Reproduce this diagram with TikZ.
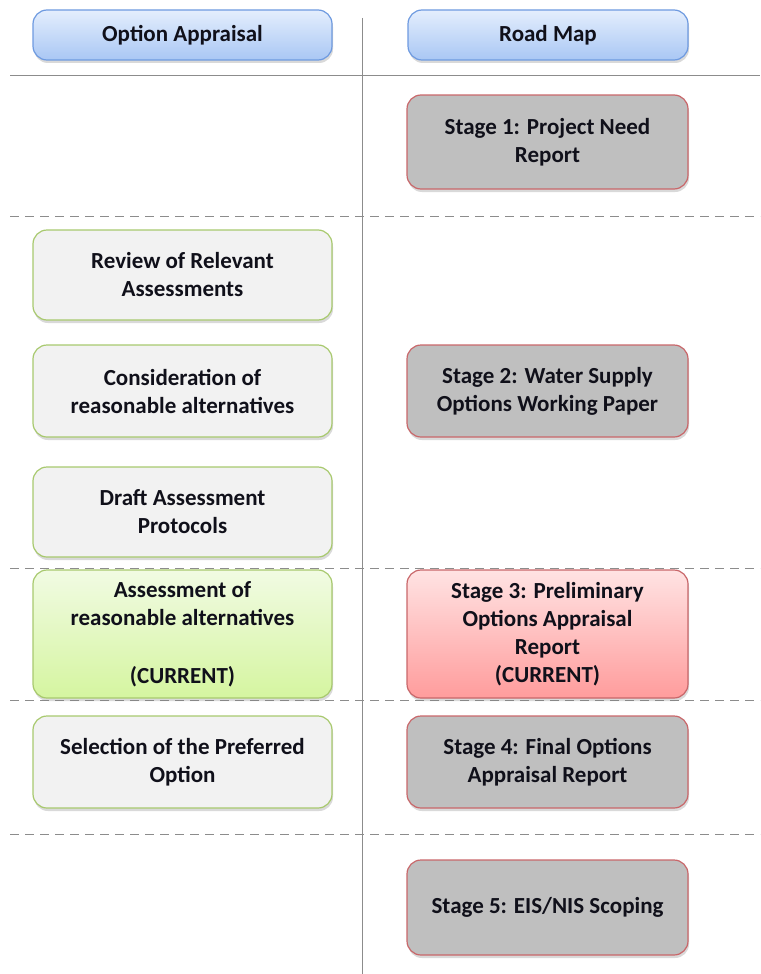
\documentclass[tikz,border=0pt]{standalone}
\usepackage{fontspec}
\setmainfont{Carlito}
\usetikzlibrary{shadows}

\definecolor{hdrtop}{HTML}{E4EEFD}
\definecolor{hdrbot}{HTML}{A9C7F4}
\definecolor{hdrline}{HTML}{6E9AE0}
\definecolor{stagegray}{HTML}{BFBFBF}
\definecolor{stageline}{HTML}{C9676A}
\definecolor{stepgray}{HTML}{F2F2F2}
\definecolor{stepline}{HTML}{A8C96E}
\definecolor{curgtop}{HTML}{F1FBE3}
\definecolor{curgbot}{HTML}{D5F5A0}
\definecolor{currtop}{HTML}{FFE3E3}
\definecolor{currbot}{HTML}{FF9C9C}
\definecolor{sepline}{HTML}{8C8C8C}
\definecolor{boxtext}{HTML}{10101A}

\tikzset{
  box/.style={draw, rounded corners=14pt, line width=1.2pt, align=center, inner sep=0pt,
    text=boxtext, font=\fontsize{23}{28}\selectfont\bfseries,
    drop shadow={shadow xshift=1pt, shadow yshift=-3pt, opacity=0.3}},
  header/.style={box, top color=hdrtop, bottom color=hdrbot, draw=hdrline},
  stagebox/.style={box, fill=stagegray, draw=stageline, minimum width=281pt},
  stepbox/.style={box, fill=stepgray, draw=stepline, minimum width=299pt},
  sepsolid/.style={sepline, line width=1pt},
  sepdash/.style={sepline, line width=1pt, dash pattern=on 9pt off 6pt}
}

\begin{document}
\begin{tikzpicture}[x=1pt, y=-1pt]
\useasboundingbox (0,0) rectangle (760,974);

% Separators between the rows
\draw[sepsolid] (362,18) -- (362,974);
\draw[sepsolid] (10,75) -- (760,75);
\foreach \y in {216, 568, 700, 834} {
    \draw[sepdash] (10,\y) -- (760,\y);
}

% Column headers
\node[header, minimum width=299pt, minimum height=50pt] (optapp) at (182.5,35) {Option Appraisal};
\node[header, minimum width=280pt, minimum height=50pt] (roadmap) at (548,35) {Road Map};

% Option appraisal steps
\foreach \n/\y/\h/\txt in {review/275/90/{Review of Relevant\\Assessments},
    consider/391/92/{Consideration of\\reasonable alternatives},
    draft/512/90/{Draft Assessment\\Protocols},
    select/762/92/{Selection of the Preferred\\Option}} {
    \node[stepbox, minimum height=\h pt] (\n) at (182.5,\y) {\txt};
}

% Road map stages
\foreach \n/\y/\h/\txt in {stage1/142/94/{Stage 1: Project Need\\Report},
    stage2/391/92/{Stage 2: Water Supply\\Options Working Paper},
    stage4/762/92/{Stage 4: Final Options\\Appraisal Report},
    stage5/907.5/95/{Stage 5: EIS/NIS Scoping}} {
    \node[stagebox, minimum height=\h pt] (\n) at (547.5,\y) {\txt};
}

% Current step and stage
\node[stepbox, minimum height=128pt, top color=curgtop, bottom color=curgbot] (assess) at (182.5,634)
    {Assessment of\\reasonable alternatives\\[30pt](CURRENT)};
\node[stagebox, minimum height=128pt, top color=currtop, bottom color=currbot] (stage3) at (547.5,634)
    {Stage 3: Preliminary\\Options Appraisal\\Report\\(CURRENT)};

\end{tikzpicture}
\end{document}
